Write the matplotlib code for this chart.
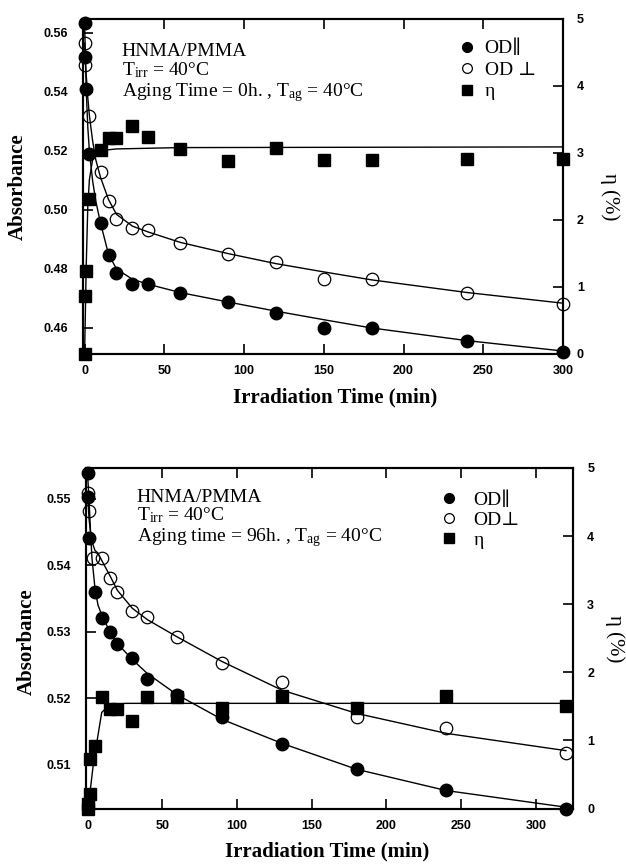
import matplotlib.pyplot as plt

plt.rcParams['mathtext.fontset'] = 'custom'
plt.rcParams['mathtext.rm'] = 'Liberation Serif'
plt.rcParams['mathtext.it'] = 'Liberation Serif:italic'

SERIF = ['Liberation Serif', 'DejaVu Serif']

# ---- top panel: aging time 0 h ----
t1_par = [0, 0.5, 1, 3, 10, 15, 20, 30, 40, 60, 90, 120, 150, 180, 240, 300]
od1_par = [0.5634, 0.5518, 0.5408, 0.5190, 0.4955, 0.4847, 0.4786, 0.4750, 0.4748,
           0.4718, 0.4687, 0.4652, 0.4601, 0.4601, 0.4557, 0.4520]
t1_perp = [0, 0.5, 3, 10, 15, 20, 30, 40, 60, 90, 120, 150, 180, 240, 300]
od1_perp = [0.5565, 0.5490, 0.5318, 0.5130, 0.5030, 0.4970, 0.4940, 0.4931, 0.4888,
            0.4851, 0.4823, 0.4765, 0.4767, 0.4718, 0.4681]
t1_eta = [0, 0.5, 1, 3, 10, 15, 20, 30, 40, 60, 90, 120, 150, 180, 240, 300]
eta1 = [0, 0.87, 1.24, 2.31, 3.04, 3.23, 3.23, 3.40, 3.24, 3.06, 2.88, 3.08, 2.89, 2.89, 2.91, 2.91]

# fitted curves
f1_t = [0, 0.5, 1, 2, 3, 5, 7, 10, 15, 20, 30, 40, 60, 90, 120, 150, 180, 240, 300]
f1_par = [0.5634, 0.5520, 0.5410, 0.5280, 0.5200, 0.5100, 0.5030, 0.4955, 0.4850, 0.4800,
          0.4765, 0.4748, 0.4720, 0.4688, 0.4657, 0.4628, 0.4600, 0.4557, 0.4522]
f1_perp = [0.5565, 0.5500, 0.5460, 0.5380, 0.5320, 0.5235, 0.5170, 0.5110, 0.5035, 0.4985,
           0.4945, 0.4925, 0.4890, 0.4852, 0.4818, 0.4790, 0.4763, 0.4720, 0.4684]
f1_eta_t = [0, 1, 2, 3, 5, 8, 12, 20, 60, 300]
f1_eta = [0, 1.3, 2.2, 2.6, 2.9, 3.0, 3.04, 3.06, 3.08, 3.09]

# ---- bottom panel: aging time 96 h ----
t2_par = [0, 0.5, 1, 5, 10, 15, 20, 30, 40, 60, 90, 130, 180, 240, 320]
od2_par = [0.5538, 0.5502, 0.5440, 0.5360, 0.5320, 0.5300, 0.5282, 0.5261, 0.5229,
           0.5205, 0.5171, 0.5131, 0.5093, 0.5062, 0.5033]
t2_perp = [0, 1, 4, 10, 15, 20, 30, 40, 60, 90, 130, 180, 240, 320]
od2_perp = [0.5508, 0.5481, 0.5410, 0.5411, 0.5380, 0.5360, 0.5331, 0.5322, 0.5292,
            0.5253, 0.5224, 0.5172, 0.5155, 0.5117]
t2_eta = [0, 0.5, 1.5, 2, 5, 10, 15, 20, 30, 40, 60, 90, 130, 180, 240, 320]
eta2 = [0, 0.06, 0.21, 0.73, 0.92, 1.63, 1.46, 1.46, 1.28, 1.64, 1.64, 1.48, 1.65, 1.48, 1.65, 1.50]

f2_t = [0, 1, 2, 3, 5, 7, 10, 15, 20, 30, 40, 60, 90, 130, 180, 240, 320]
f2_par = [0.5538, 0.5500, 0.5450, 0.5410, 0.5365, 0.5340, 0.5322, 0.5300, 0.5282, 0.5258,
          0.5237, 0.5205, 0.5168, 0.5132, 0.5093, 0.5061, 0.5036]
f2_perp = [0.5510, 0.5470, 0.5450, 0.5435, 0.5422, 0.5418, 0.5405, 0.5384, 0.5362, 0.5335,
           0.5318, 0.5292, 0.5255, 0.5212, 0.5177, 0.5147, 0.5121]
f2_eta_t = [0, 0.5, 4, 9.5, 14, 25, 320]
f2_eta = [0, 0.02, 0.67, 1.41, 1.51, 1.544, 1.544]

panels = [
    dict(rect=[0.1326, 0.5908, 0.7668, 0.3873], xlim=(-1, 300), ylim=(0.4512, 0.5647),
         yticks=[0.46, 0.48, 0.50, 0.52, 0.54, 0.56],
         par=(t1_par, od1_par), perp=(t1_perp, od1_perp), eta=(t1_eta, eta1),
         fit=(f1_t, f1_par, f1_perp), fit_eta=(f1_eta_t, f1_eta),
         lines=['HNMA/PMMA', r'T$_{\rm irr}$ = 40°C',
                r'Aging Time = 0h. , T$_{\rm ag}$ = 40°C'],
         text_x=0.081, text_y=[0.8896, 0.8328, 0.768],
         labels=['OD∥', 'OD ⊥', 'η'], leg_at=(0.783, 0.938), leg_pad=0.53, leg_sp=0.2,
         ylab_x=-0.135, ylab_y=0.5, rlab_x=1.098, rlab_y=0.47, xlab_x=0.526, xlab_y=-0.131),
    dict(rect=[0.1374, 0.0653, 0.7785, 0.3937], xlim=(-1, 325), ylim=(0.5034, 0.5546),
         yticks=[0.51, 0.52, 0.53, 0.54, 0.55],
         par=(t2_par, od2_par), perp=(t2_perp, od2_perp), eta=(t2_eta, eta2),
         fit=(f2_t, f2_par, f2_perp), fit_eta=(f2_eta_t, f2_eta),
         lines=['HNMA/PMMA', r'T$_{\rm irr}$ = 40°C',
                r'Aging time = 96h. , T$_{\rm ag}$ = 40°C'],
         text_x=0.104, text_y=[0.901, 0.845, 0.7836],
         labels=['OD∥', 'OD⊥', 'η'], leg_at=(0.729, 0.931), leg_pad=0.84, leg_sp=0.12,
         ylab_x=-0.121, ylab_y=0.49, rlab_x=1.086, rlab_y=0.5, xlab_x=0.494, xlab_y=-0.127),
]

fig = plt.figure(figsize=(6.26, 8.65), dpi=100)

for p in panels:
    ax = fig.add_axes(p['rect'])
    ax2 = ax.twinx()

    # fitted curves
    ft, fpar, fperp = p['fit']
    ax.plot(ft, fpar, color='black', lw=1.0, zorder=2)
    ax.plot(ft, fperp, color='black', lw=1.0, zorder=2)
    ax2.plot(p['fit_eta'][0], p['fit_eta'][1], color='black', lw=1.0, zorder=2)

    # data points
    h1, = ax.plot(p['par'][0], p['par'][1], 'o', color='black', ms=9, clip_on=False, zorder=4)
    h2, = ax.plot(p['perp'][0], p['perp'][1], 'o', mfc='none', mec='black', mew=0.9,
                  ms=9, clip_on=False, zorder=4)
    h3, = ax2.plot(p['eta'][0], p['eta'][1], 's', color='black', ms=9, clip_on=False, zorder=5)

    ax.set_xlim(p['xlim'])
    ax.set_ylim(p['ylim'])
    ax2.set_ylim(0, 5)
    ax.set_xticks([0, 50, 100, 150, 200, 250, 300])
    ax.set_yticks(p['yticks'])
    ax.set_yticklabels(['%.2f' % v for v in p['yticks']])
    ax2.set_yticks([0, 1, 2, 3, 4, 5])

    for a in (ax, ax2):
        for s in a.spines.values():
            s.set_linewidth(1.5)
    ax.tick_params(axis='x', direction='in', length=7, width=1.2, top=True, pad=8)
    ax.tick_params(axis='y', direction='in', length=7, width=1.2, right=False, pad=11)
    ax2.tick_params(axis='y', direction='in', length=7, width=1.2, pad=10)
    for lab in ax.get_xticklabels() + ax.get_yticklabels() + ax2.get_yticklabels():
        lab.set_fontfamily('Liberation Sans')
        lab.set_fontweight('bold')
        lab.set_fontsize(9)

    # annotation block
    for line, yy in zip(p['lines'], p['text_y']):
        ax.text(p['text_x'], yy, line, transform=ax.transAxes, family=SERIF,
                fontsize=14, ha='left', va='baseline')

    ax.legend([h1, h2, h3], p['labels'], loc='upper left', bbox_to_anchor=p['leg_at'],
              frameon=False, borderpad=0, borderaxespad=0, markerscale=0.78,
              handlelength=0.8, handletextpad=p['leg_pad'], labelspacing=p['leg_sp'],
              prop=dict(family=SERIF, size=14))

    ax.text(p['ylab_x'], p['ylab_y'], 'Absorbance', transform=ax.transAxes, rotation=90,
            family=SERIF, fontweight='bold', fontsize=15, ha='center', va='center')
    ax.text(p['rlab_x'], p['rlab_y'], 'η (%)', transform=ax.transAxes, rotation=270,
            family=SERIF, fontsize=15, ha='center', va='center')
    ax.text(p['xlab_x'], p['xlab_y'], 'Irradiation Time (min)', transform=ax.transAxes,
            family=SERIF, fontweight='bold', fontsize=15, ha='center', va='center')

fig.savefig('out.png', dpi=100)
